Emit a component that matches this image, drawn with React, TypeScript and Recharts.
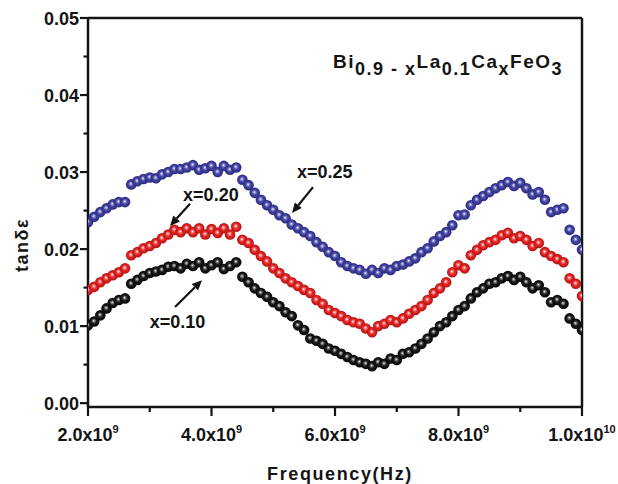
import React from 'react';
import { ScatterChart, Scatter, XAxis, YAxis, ReferenceLine, ReferenceDot } from 'recharts';

// Frequency in GHz (axis labels shown in Hz)
const freqGHz = [
  2.0, 2.1, 2.2, 2.3, 2.4, 2.5, 2.6, 2.7, 2.8, 2.9,
  3.0, 3.1, 3.2, 3.3, 3.4, 3.5, 3.6, 3.7, 3.8, 3.9,
  4.0, 4.1, 4.2, 4.3, 4.4, 4.5, 4.6, 4.7, 4.8, 4.9,
  5.0, 5.1, 5.2, 5.3, 5.4, 5.5, 5.6, 5.7, 5.8, 5.9,
  6.0, 6.1, 6.2, 6.3, 6.4, 6.5, 6.6, 6.7, 6.8, 6.9,
  7.0, 7.1, 7.2, 7.3, 7.4, 7.5, 7.6, 7.7, 7.8, 7.9,
  8.0, 8.1, 8.2, 8.3, 8.4, 8.5, 8.6, 8.7, 8.8, 8.9,
  9.0, 9.1, 9.2, 9.3, 9.4, 9.5, 9.6, 9.7, 9.8, 9.9,
  10.0,
];

const tan025 = [
  0.0235, 0.0242, 0.0248, 0.0253, 0.0258, 0.0261, 0.0261, 0.0284, 0.0288, 0.0291,
  0.0293, 0.0292, 0.0297, 0.0300, 0.0304, 0.0304, 0.0306, 0.0309, 0.0303, 0.0305,
  0.0308, 0.0300, 0.0308, 0.0303, 0.0306, 0.0290, 0.0283, 0.0273, 0.0264, 0.0257,
  0.0251, 0.0244, 0.0240, 0.0232, 0.0227, 0.0222, 0.0217, 0.0209, 0.0203, 0.0196,
  0.0191, 0.0183, 0.0178, 0.0175, 0.0173, 0.0168, 0.0173, 0.0169, 0.0175, 0.0173,
  0.0178, 0.0180, 0.0184, 0.0188, 0.0196, 0.0201, 0.0210, 0.0217, 0.0222, 0.0231,
  0.0244, 0.0245, 0.0257, 0.0264, 0.0269, 0.0274, 0.0279, 0.0283, 0.0287, 0.0282,
  0.0286, 0.0279, 0.0271, 0.0274, 0.0264, 0.0248, 0.0251, 0.0253, 0.0225, 0.0212,
  0.0199,
];

const tan020 = [
  0.0147, 0.0151, 0.0157, 0.0162, 0.0166, 0.0170, 0.0175, 0.0192, 0.0196, 0.0201,
  0.0204, 0.0208, 0.0214, 0.0219, 0.0225, 0.0222, 0.0227, 0.0222, 0.0227, 0.0219,
  0.0226, 0.0221, 0.0227, 0.0219, 0.0229, 0.0212, 0.0208, 0.0199, 0.0191, 0.0184,
  0.0175, 0.0169, 0.0162, 0.0157, 0.0152, 0.0147, 0.0143, 0.0134, 0.0129, 0.0121,
  0.0117, 0.0113, 0.0108, 0.0105, 0.0103, 0.0097, 0.0092, 0.0100, 0.0103, 0.0108,
  0.0105, 0.0110, 0.0116, 0.0121, 0.0126, 0.0134, 0.0143, 0.0149, 0.0157, 0.0170,
  0.0179, 0.0175, 0.0192, 0.0199, 0.0205, 0.0209, 0.0212, 0.0218, 0.0221, 0.0214,
  0.0217, 0.0212, 0.0204, 0.0208, 0.0196, 0.0191, 0.0187, 0.0183, 0.0162, 0.0155,
  0.0139,
];

const tan010 = [
  0.0101, 0.0106, 0.0114, 0.0123, 0.0130, 0.0134, 0.0136, 0.0155, 0.0160, 0.0165,
  0.0169, 0.0171, 0.0173, 0.0177, 0.0178, 0.0175, 0.0181, 0.0178, 0.0183, 0.0175,
  0.0179, 0.0183, 0.0174, 0.0178, 0.0183, 0.0164, 0.0157, 0.0149, 0.0143, 0.0138,
  0.0131, 0.0126, 0.0118, 0.0113, 0.0101, 0.0095, 0.0084, 0.0081, 0.0077, 0.0071,
  0.0068, 0.0064, 0.0060, 0.0056, 0.0053, 0.0051, 0.0048, 0.0053, 0.0051, 0.0058,
  0.0056, 0.0064, 0.0066, 0.0071, 0.0077, 0.0084, 0.0092, 0.0100, 0.0105, 0.0113,
  0.0121, 0.0126, 0.0136, 0.0144, 0.0149, 0.0155, 0.0157, 0.0162, 0.0165, 0.0160,
  0.0164, 0.0157, 0.0149, 0.0153, 0.0144, 0.0131, 0.0134, 0.0129, 0.0110, 0.0103,
  0.0095,
];

const xTicks = [2, 3, 4, 5, 6, 7, 8, 9, 10];
const xMajorMantissa: Record<number, string> = { 2: '2.0x10', 4: '4.0x10', 6: '6.0x10', 8: '8.0x10', 10: '1.0x10' };
const xMajorExponent: Record<number, string> = { 2: '9', 4: '9', 6: '9', 8: '9', 10: '10' };

const yTicks = [0, 0.005, 0.01, 0.015, 0.02, 0.025, 0.03, 0.035, 0.04, 0.045, 0.05];
const yMajorLabels = ['0.00', '0.01', '0.02', '0.03', '0.04', '0.05'];

const annotations = [
  { label: 'x=0.25', textX: 5.385, textY: 0.0292, tailX: 5.644, tailY: 0.02805, tipX: 5.304, tipY: 0.02468 },
  { label: 'x=0.20', textX: 3.54, textY: 0.0262, tailX: 3.652, tailY: 0.0259, tipX: 3.328, tipY: 0.0230 },
  { label: 'x=0.10', textX: 3.0, textY: 0.0098, tailX: 3.409, tailY: 0.01247, tipX: 3.846, tipY: 0.01597 },
];

const titlePos = { x: 5.968, y: 0.0435 };

const FONT = '"Liberation Sans", Arial, Helvetica, sans-serif';
const INK = '#141414';

const mk = (vals: number[]) => freqGHz.map((f, i) => ({ f, v: vals[i] }));
const data010 = mk(tan010);
const data020 = mk(tan020);
const data025 = mk(tan025);

const XTick = (props: any) => {
  const { x, y, payload } = props;
  const v = payload.value;
  const major = Math.round(v) % 2 === 0;
  return (
    <g>
      <line x1={x} y1={y} x2={x} y2={y + (major ? 9 : 5)} stroke={INK} strokeWidth={2.2} />
      {major && (
        <text x={x} y={y + 34} textAnchor="middle" fontFamily={FONT} fontWeight="bold" fontSize={18} fill={INK}>
          {xMajorMantissa[v]}
          <tspan dy={-8} fontSize={11}>{xMajorExponent[v]}</tspan>
        </text>
      )}
    </g>
  );
};

const YTick = (props: any) => {
  const { x, y, payload } = props;
  const v = payload.value;
  const h = v * 100;
  const major = Math.abs(h - Math.round(h)) < 1e-6;
  return (
    <g>
      <line x1={x - (major ? 8 : 4.5)} y1={y} x2={x} y2={y} stroke={INK} strokeWidth={2.2} />
      {major && (
        <text x={x - 9} y={y + 7} textAnchor="end" fontFamily={FONT} fontWeight="bold" fontSize={18} fill={INK}>
          {yMajorLabels[Math.round(h)]}
        </text>
      )}
    </g>
  );
};

const ball = (id: string) => (p: any) => <circle cx={p.cx} cy={p.cy} r={5.3} fill={`url(#${id})`} />;

const arrowShape = (p: any) => {
  const { x1, y1, x2, y2 } = p;
  const dx = x2 - x1;
  const dy = y2 - y1;
  const len = Math.sqrt(dx * dx + dy * dy) || 1;
  const ux = dx / len;
  const uy = dy / len;
  const bx = x2 - ux * 10;
  const by = y2 - uy * 10;
  const nx = -uy;
  const ny = ux;
  return (
    <g>
      <line x1={x1} y1={y1} x2={bx} y2={by} stroke={INK} strokeWidth={2.2} />
      <polygon points={`${x2},${y2} ${bx + nx * 4.5},${by + ny * 4.5} ${bx - nx * 4.5},${by - ny * 4.5}`} fill={INK} />
    </g>
  );
};

const labelShape = (text: string) => (p: any) => (
  <text x={p.cx} y={p.cy} fontFamily={FONT} fontWeight="bold" fontSize={18} fill={INK}>{text}</text>
);

const titleShape = (p: any) => (
  <text x={p.cx} y={p.cy} fontFamily={FONT} fontWeight="bold" fontSize={19} fill={INK} letterSpacing={1.5}>
    Bi
    <tspan dy={7} fontSize={18}>0.9 - x</tspan>
    <tspan dy={-7} fontSize={19}>La</tspan>
    <tspan dy={7} fontSize={18}>0.1</tspan>
    <tspan dy={-7} fontSize={19}>Ca</tspan>
    <tspan dy={7} fontSize={18}>x</tspan>
    <tspan dy={-7} fontSize={19}>FeO</tspan>
    <tspan dy={7} fontSize={18}>3</tspan>
  </text>
);

export default function App() {
  return (
    <div style={{ position: 'absolute', left: 0, top: 0, width: 618, height: 484, background: '#fff' }}>
      <ScatterChart width={618} height={484} margin={{ top: 18, right: 36, bottom: 0, left: 0 }}>
        <defs>
          <radialGradient id="ballBlue" cx="50%" cy="50%" r="50%" fx="45%" fy="42%">
            <stop offset="0%" stopColor="#ffffff" />
            <stop offset="18%" stopColor="#a0a0dc" />
            <stop offset="48%" stopColor="#4646a4" />
            <stop offset="100%" stopColor="#2a2a7e" />
          </radialGradient>
          <radialGradient id="ballRed" cx="50%" cy="50%" r="50%" fx="45%" fy="42%">
            <stop offset="0%" stopColor="#ffffff" />
            <stop offset="18%" stopColor="#f59a9a" />
            <stop offset="48%" stopColor="#e82828" />
            <stop offset="100%" stopColor="#b41212" />
          </radialGradient>
          <radialGradient id="ballBlack" cx="50%" cy="50%" r="50%" fx="45%" fy="42%">
            <stop offset="0%" stopColor="#ffffff" />
            <stop offset="16%" stopColor="#959595" />
            <stop offset="48%" stopColor="#1c1c1c" />
            <stop offset="100%" stopColor="#050505" />
          </radialGradient>
        </defs>
        <XAxis
          type="number"
          dataKey="f"
          domain={[2, 10]}
          ticks={xTicks}
          interval={0}
          allowDataOverflow
          height={77}
          tickSize={0}
          tickMargin={0}
          tickLine={false}
          axisLine={{ stroke: INK, strokeWidth: 2.5 }}
          tick={(p: any) => <XTick {...p} />}
          label={{
            content: (lp: any) => {
              const vb = lp.viewBox || { x: 88, y: 407, width: 494, height: 77 };
              return (
                <text x={vb.x + vb.width / 2 + 5} y={vb.y + 73} textAnchor="middle" fontFamily={FONT}
                  fontWeight="bold" fontSize={18} letterSpacing={1.6} fill={INK}>
                  Frequency(Hz)
                </text>
              );
            },
          }}
        />
        <YAxis
          type="number"
          dataKey="v"
          domain={[-0.0005, 0.05]}
          ticks={yTicks}
          interval={0}
          allowDataOverflow
          width={88}
          tickSize={0}
          tickMargin={0}
          tickLine={false}
          axisLine={{ stroke: INK, strokeWidth: 2.5 }}
          tick={(p: any) => <YTick {...p} />}
          label={{
            content: () => (
              <text x={28} y={245} transform="rotate(-90, 28, 245)" textAnchor="middle" fontFamily={FONT}
                fontWeight="bold" fontSize={18} letterSpacing={1.5} fill={INK}>
                tanδε
              </text>
            ),
          }}
        />
        <ReferenceLine y={0.05} stroke={INK} strokeWidth={2.5} />
        <ReferenceLine x={10} stroke={INK} strokeWidth={2.5} />
        <Scatter name="x=0.10" data={data010} isAnimationActive={false} shape={ball('ballBlack')} />
        <Scatter name="x=0.20" data={data020} isAnimationActive={false} shape={ball('ballRed')} />
        <Scatter name="x=0.25" data={data025} isAnimationActive={false} shape={ball('ballBlue')} />
        {annotations.map((a) => (
          <ReferenceLine
            key={'arr' + a.label}
            segment={[{ x: a.tailX, y: a.tailY }, { x: a.tipX, y: a.tipY }]}
            shape={arrowShape}
          />
        ))}
        {annotations.map((a) => (
          <ReferenceDot key={'lbl' + a.label} x={a.textX} y={a.textY} r={0} shape={labelShape(a.label)} />
        ))}
        <ReferenceDot x={titlePos.x} y={titlePos.y} r={0} shape={titleShape} />
      </ScatterChart>
    </div>
  );
}
